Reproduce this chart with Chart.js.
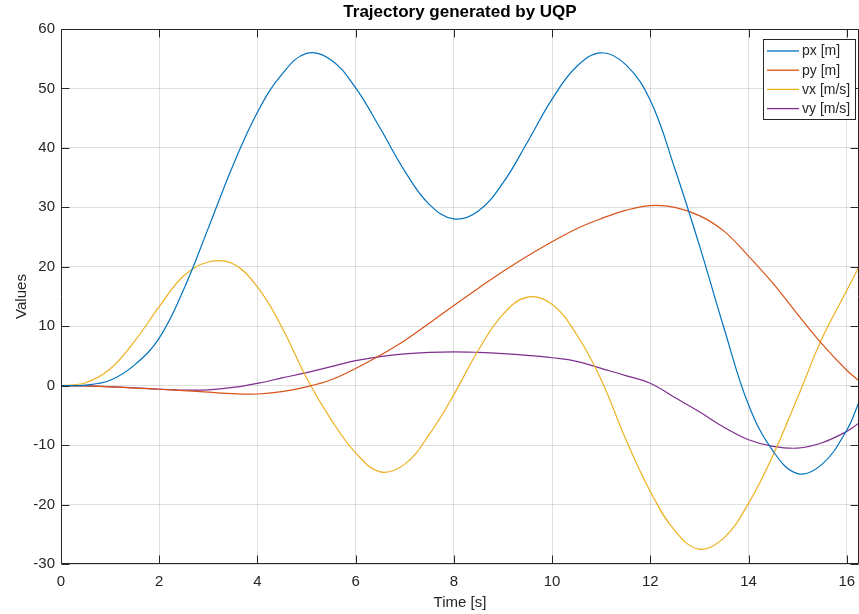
<!DOCTYPE html>
<html>
<head>
<meta charset="utf-8">
<script src="https://cdn.jsdelivr.net/npm/chart.js@4/dist/chart.umd.min.js"></script>
<style>
  html, body { margin: 0; padding: 0; background: #ffffff; }
  #wrap { width: 859px; height: 614px; }
</style>
</head>
<body>
<div id="wrap"><canvas id="c" width="859" height="614"></canvas></div>
<script>
// ---- data ----
const time = [0, 0.5, 1, 1.5, 2, 2.5, 3, 3.5, 4, 4.5, 5, 5.5, 6, 6.5, 7, 7.5, 8, 8.5, 9, 9.5, 10, 10.5, 11, 11.5, 12, 12.5, 13, 13.5, 14, 14.5, 15, 15.5, 16, 16.25];
const px = [0, 0.1, 0.9, 3.5, 8.0, 16.2, 26.5, 37, 46, 52.4, 55.9, 54.8, 50.1, 43.3, 36.1, 30.5, 28.05, 29.4, 34.1, 41.0, 48.2, 53.7, 56, 54, 48, 36.5, 23.6, 9.7, -3.2, -11, -14.8, -13.2, -7.5, -2.8];
const py = [0, -0.05, -0.2, -0.4, -0.6, -0.85, -1.1, -1.35, -1.4, -1.0, -0.2, 1.0, 2.9, 5.1, 7.6, 10.5, 13.5, 16.4, 19.2, 21.8, 24.2, 26.4, 28.1, 29.5, 30.3, 30.0, 28.6, 26.0, 21.8, 17.2, 12.0, 7.0, 2.6, 0.8];
const vx = [0, 0.5, 2.8, 7.5, 13.3, 18.5, 20.8, 20.5, 16.6, 9.8, 1.3, -5.7, -11.3, -14.5, -13.2, -8.2, -1.5, 6.0, 12.0, 14.9, 13.7, 8.6, 1.0, -9, -17.8, -24.4, -27.5, -25.6, -19.8, -11.7, -2, 8, 16, 20];
const vy = [0, -0.05, -0.15, -0.35, -0.6, -0.75, -0.7, -0.3, 0.4, 1.3, 2.2, 3.2, 4.2, 4.9, 5.35, 5.6, 5.7, 5.6, 5.4, 5.1, 4.7, 4.1, 2.9, 1.7, 0.4, -2.0, -4.4, -7.0, -9.1, -10.2, -10.5, -9.6, -7.7, -6.3];

const seriesNames = ['px [m]', 'py [m]', 'vx [m/s]', 'vy [m/s]'];
const seriesColors = ['#0072BD', '#D95319', '#EDB120', '#7E2F8E'];
const xTicks = [0, 2, 4, 6, 8, 10, 12, 14, 16];
const yTicks = [-30, -20, -10, 0, 10, 20, 30, 40, 50, 60];
const titleText = 'Trajectory generated by UQP';
const xLabel = 'Time [s]';
const yLabel = 'Values';

const FONT = "'Liberation Sans', Arial, Helvetica, sans-serif";
const AX = '#262626';
const GRID = 'rgba(38,38,38,0.15)';

Chart.defaults.font.family = FONT;
Chart.defaults.color = AX;

function toXY(vals) { return vals.map((v, i) => ({ x: time[i], y: v })); }

const allSeries = [px, py, vx, vy];
const datasets = allSeries.map((vals, i) => ({
  label: seriesNames[i],
  data: toXY(vals),
  borderColor: seriesColors[i],
  backgroundColor: seriesColors[i],
  borderWidth: 1.2,
  pointRadius: 0,
  fill: false,
  tension: 0.4
}));

// axis box, inward ticks, legend
const matlabAxes = {
  id: 'matlabAxes',
  afterDatasetsDraw(chart) {
    const { ctx, chartArea: a, scales } = chart;
    const xs = scales.x, ys = scales.y;
    ctx.save();
    ctx.strokeStyle = AX;
    ctx.lineWidth = 1;
    const L = Math.round(a.left) + 0.5, R = Math.round(a.right) - 0.5;
    const T = Math.round(a.top) + 0.5, B = Math.round(a.bottom) - 0.5;
    ctx.beginPath();
    ctx.rect(L, T, R - L, B - T);
    ctx.stroke();
    const tl = 8;
    ctx.beginPath();
    xTicks.forEach(v => {
      const px_ = Math.round(xs.getPixelForValue(v)) + 0.5;
      ctx.moveTo(px_, B); ctx.lineTo(px_, B - tl);
      ctx.moveTo(px_, T); ctx.lineTo(px_, T + tl);
    });
    yTicks.forEach(v => {
      const py_ = Math.round(ys.getPixelForValue(v)) + 0.5;
      ctx.moveTo(L, py_); ctx.lineTo(L + tl, py_);
      ctx.moveTo(R, py_); ctx.lineTo(R - tl, py_);
    });
    ctx.stroke();

    // legend box (inside top-right)
    const bw = 92, rowH = 19.2;
    const bh = 80;
    const bx = Math.round(a.right) - 96 + 0.5, by = Math.round(a.top) + 10 + 0.5;
    ctx.fillStyle = '#ffffff';
    ctx.fillRect(bx, by, bw, bh);
    ctx.strokeStyle = '#262626';
    ctx.lineWidth = 1;
    ctx.strokeRect(bx, by, bw, bh);
    ctx.font = '14px ' + FONT;
    ctx.textBaseline = 'middle';
    ctx.textAlign = 'left';
    chart.data.datasets.forEach((ds, i) => {
      const yy = by + 11.5 + i * rowH;
      ctx.strokeStyle = ds.borderColor;
      ctx.lineWidth = 1.3;
      ctx.beginPath();
      ctx.moveTo(bx + 3.5, yy);
      ctx.lineTo(bx + 35.5, yy);
      ctx.stroke();
      ctx.fillStyle = AX;
      ctx.fillText(ds.label, bx + 38.5, yy + 0.5);
    });
    ctx.restore();
  }
};

new Chart(document.getElementById('c'), {
  type: 'line',
  data: { datasets },
  options: {
    responsive: false,
    animation: false,
    devicePixelRatio: 1,
    layout: { padding: { top: 0, left: 0, right: 0, bottom: 0 } },
    plugins: {
      legend: { display: false },
      tooltip: { enabled: false },
      title: {
        display: true,
        text: titleText,
        fullSize: false,
        color: '#000000',
        font: { size: 17, weight: 'bold', family: FONT },
        padding: { top: 2, bottom: 6.6 }
      }
    },
    scales: {
      x: {
        type: 'linear',
        min: 0,
        max: 16.25,
        afterFit(s) { s.height = 50; s.paddingLeft = 0; s.paddingRight = 0; },
        ticks: {
          stepSize: 2,
          includeBounds: false,
          padding: 9,
          color: AX,
          font: { size: 15 },
          maxRotation: 0,
          autoSkip: false
        },
        grid: { color: GRID, drawTicks: false, lineWidth: 1 },
        border: { display: false },
        title: { display: true, text: xLabel, color: AX, font: { size: 15 }, padding: { top: 0, bottom: 2 } }
      },
      y: {
        type: 'linear',
        min: -30,
        max: 60,
        afterFit(s) { s.width = 61; s.paddingTop = 0; s.paddingBottom = 0; },
        ticks: {
          stepSize: 10,
          padding: 6,
          color: AX,
          font: { size: 15 }
        },
        grid: { color: GRID, drawTicks: false, lineWidth: 1 },
        border: { display: false },
        title: { display: true, text: yLabel, color: AX, font: { size: 15 }, padding: { top: 13, bottom: 0 } }
      }
    }
  },
  plugins: [matlabAxes]
});
</script>
</body>
</html>
